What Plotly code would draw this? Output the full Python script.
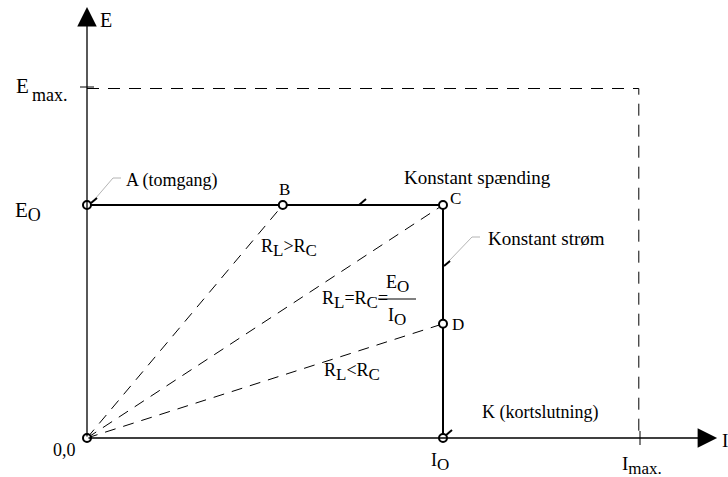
import plotly.graph_objects as go

# ---- data (normalized units: I_O = 1, E_O = 1) ----
point_names = ["A", "B", "C", "D", "K", "0"]
point_I = [0.0, 0.55, 1.0, 1.0, 1.0, 0.0]
point_E = [1.0, 1.0, 1.0, 0.49, 0.0, 0.0]
E_O = 1.0
I_O = 1.0
E_max = 1.5
I_max = 1.55
axis_I_end = 1.77
axis_E_end = 1.85
load_lines = ["B", "C", "D"]   # lines from origin

# ---- geometry: pixel mapping (plot area = full page) ----
W, H = 728, 477
X0PX, Y0PX = 87, 438
SX, SY = 356.0, 233.0

def px(x, y):
    return ((x - X0PX) / SX, (Y0PX - y) / SY)

xr = [px(0, 0)[0], px(W, 0)[0]]
yr = [px(0, H)[1], px(0, 0)[1]]

FONT = "Liberation Serif"
fig = go.Figure()

pt = dict(zip(point_names, zip(point_I, point_E)))

# dashed limits
fig.add_trace(go.Scatter(x=[0, I_max, I_max], y=[E_max, E_max, 0], mode="lines",
                         line=dict(color="black", width=1, dash="12px,9px"), hoverinfo="skip"))
# dashed load lines
for n in load_lines:
    fig.add_trace(go.Scatter(x=[0, pt[n][0]], y=[0, pt[n][1]], mode="lines",
                             line=dict(color="black", width=1, dash="11px,8px"), hoverinfo="skip"))
# characteristic (solid)
fig.add_trace(go.Scatter(x=[0, I_O, I_O], y=[E_O, E_O, 0], mode="lines",
                         line=dict(color="black", width=2), hoverinfo="skip"))

def seg(pts, color="black", width=2):
    xs, ys = zip(*[px(a, b) for a, b in pts])
    fig.add_trace(go.Scatter(x=xs, y=ys, mode="lines", line=dict(color=color, width=width),
                             hoverinfo="skip"))

# grey leader lines and small black marks
seg([(121, 178), (113, 178), (95, 199)], color="#b4b4b4", width=1)
seg([(91, 203), (97, 198)])
seg([(359, 205), (366, 199)])
seg([(480, 237), (472, 237), (449, 261)], color="#b4b4b4", width=1)
seg([(444, 266), (450, 261)])
seg([(445, 436), (452, 430)])

# axes arrows
fig.add_annotation(x=axis_I_end, y=0, ax=0, ay=0, xref="x", yref="y", axref="x", ayref="y",
                   showarrow=True, arrowhead=2, arrowsize=3, arrowwidth=1.3, arrowcolor="black", text="")
fig.add_annotation(x=0, y=axis_E_end, ax=0, ay=0, xref="x", yref="y", axref="x", ayref="y",
                   showarrow=True, arrowhead=2, arrowsize=3, arrowwidth=1.3, arrowcolor="black", text="")
seg([(80, 87), (94, 87)], width=1)
seg([(640, 431), (640, 445)], width=1)

# open circles
fig.add_trace(go.Scatter(x=point_I, y=point_E, mode="markers",
                         marker=dict(size=8, color="white", line=dict(color="black", width=2)),
                         hoverinfo="skip"))

def txt(xp, yp, t, size=18, xanchor="left", yanchor="middle"):
    x, y = px(xp, yp)
    fig.add_annotation(x=x, y=y, xref="x", yref="y", text=t, showarrow=False,
                       xanchor=xanchor, yanchor=yanchor,
                       font=dict(family=FONT, size=size, color="black"))

def sub(s, size=15):
    return "<sub><span style='font-size:%dpx'>%s</span></sub>" % (size, s)

txt(98, 20, "E", 20)
txt(14, 86, "E", 21)
txt(30, 95, "max.", 18)
txt(13, 211, "E" + sub("O", 18), 21)
txt(124, 180, "A (tomgang)", 18)
txt(284, 189, "B", 17, xanchor="center")
txt(402, 177, "Konstant sp\u00e6nding", 19)
txt(448, 198, "C", 17)
txt(486, 238, "Konstant str\u00f8m", 19)
txt(450, 324, "D", 17)
txt(259, 248, "R" + sub("L", 17) + "&gt;R" + sub("C", 17), 18)
txt(320, 300, "R" + sub("L", 17) + "=R" + sub("C", 17) + "=", 18)
txt(397, 284, "E" + sub("O", 17), 18, xanchor="center")
txt(397, 317, "I" + sub("O", 17), 18, xanchor="center")
seg([(378, 299), (416, 299)], width=1)
txt(322, 372, "R" + sub("L", 17) + "&lt;R" + sub("C", 17), 18)
txt(480, 412, "K (kortslutning)", 18)
txt(51, 450, "0,0", 18)
txt(429, 462, "I" + sub("O", 17), 18)
txt(620, 465, "I" + sub("max.", 17), 19)
txt(720, 440, "I", 19)

fig.update_layout(
    width=W, height=H, margin=dict(l=0, r=0, t=0, b=0),
    paper_bgcolor="white", plot_bgcolor="white", showlegend=False,
    xaxis=dict(range=xr, visible=False, fixedrange=True),
    yaxis=dict(range=yr, visible=False, fixedrange=True),
)
fig.write_html("out.html", config={"displayModeBar": False},
               post_script="document.body.style.margin='0';")
